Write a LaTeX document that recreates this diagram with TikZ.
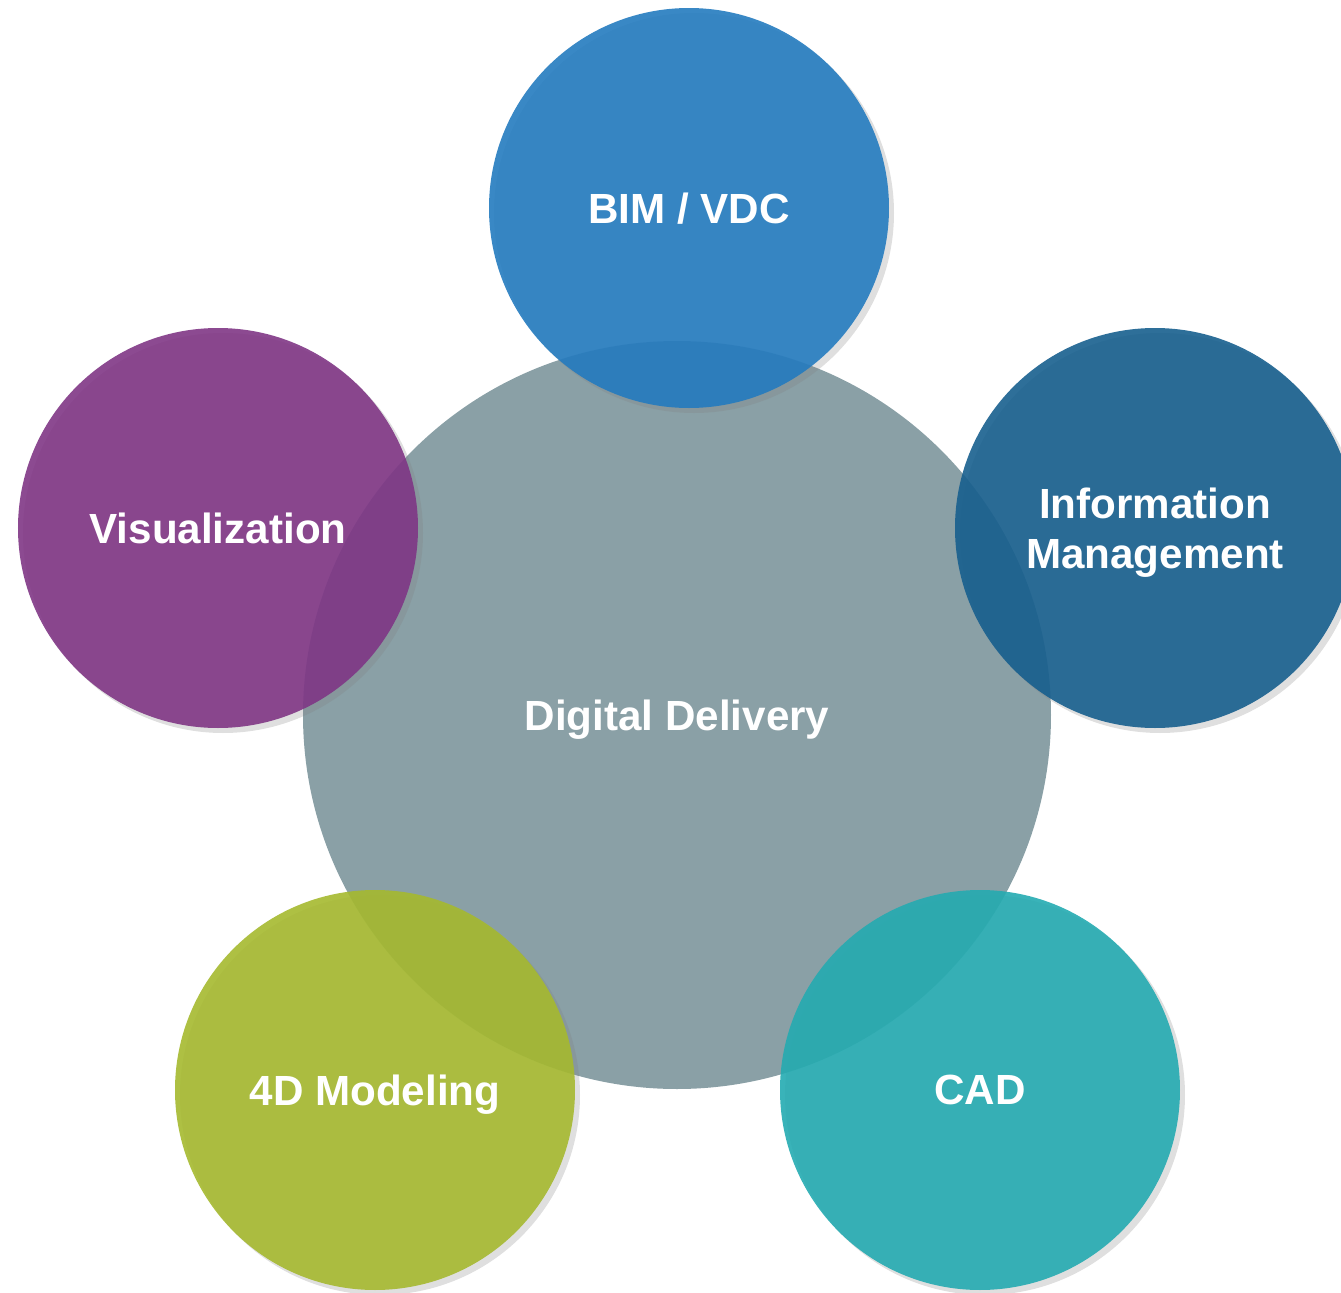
\documentclass[tikz,border=0pt]{standalone}
\usepackage{fontspec}
\setmainfont{Liberation Sans}
\usetikzlibrary{shadows}

\definecolor{ddgray}{HTML}{8AA0A6}
\definecolor{bimblue}{HTML}{247BBF}
\definecolor{infoblue}{HTML}{175F8E}
\definecolor{vispurple}{HTML}{7F3685}
\definecolor{modgreen}{HTML}{A5B92F}
\definecolor{cadteal}{HTML}{24ABB1}

\tikzset{
  hub/.style={circle,fill=ddgray,minimum size=7.48cm,inner sep=0pt,
    text=white,text depth=0pt,font=\fontsize{12}{14.2}\selectfont\bfseries},
  spoke/.style={circle,fill=#1,fill opacity=0.9,text opacity=1,
    minimum size=4cm,inner sep=0pt,align=center,text=white,text depth=0pt,
    font=\fontsize{12}{14.2}\selectfont\bfseries,
    drop shadow={shadow xshift=0.05cm,shadow yshift=-0.05cm,opacity=0.25}}
}

\begin{document}
\begin{tikzpicture}
  \useasboundingbox (0,0) rectangle (13.41,-12.93);

  \node[hub] (Digital) at (6.77,-7.15) {Digital Delivery};

  \node[spoke=bimblue] (BIM) at (6.89,-2.08) {BIM / VDC};
  \node[spoke=infoblue] (Info) at (11.55,-5.28) {Information\\Management};
  \node[spoke=vispurple] (Visual) at (2.18,-5.28) {Visualization};
  \node[spoke=modgreen] (Modeling) at (3.75,-10.90) {4D Modeling};
  \node[spoke=cadteal] (CAD) at (9.80,-10.90) {CAD};

\end{tikzpicture}
\end{document}
